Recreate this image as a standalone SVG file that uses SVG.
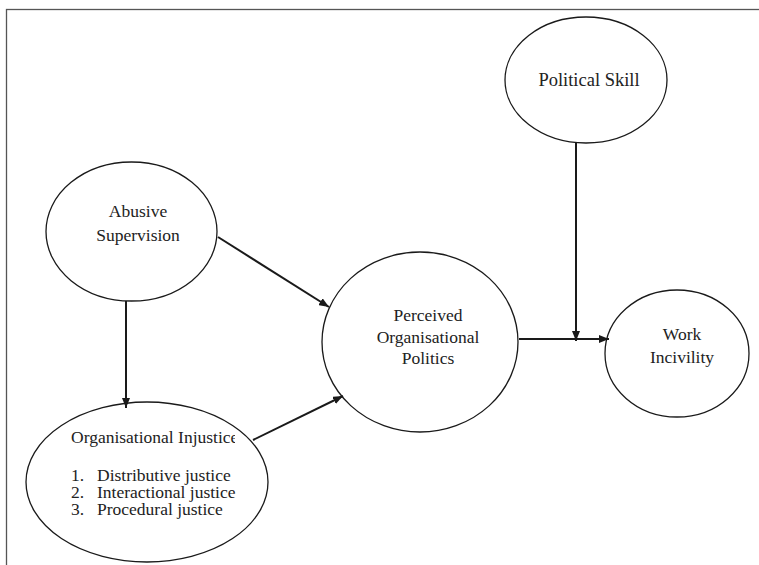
<svg xmlns="http://www.w3.org/2000/svg" width="759" height="565" viewBox="0 0 759 565">
<style>
.node ellipse{fill:#fff;stroke:#1a1a1a;stroke-width:1.3}
text{font-family:"Liberation Serif","Times New Roman",serif;font-size:17.5px;fill:#222}
.conn line{stroke:#1a1a1a;stroke-width:2}
</style>
<defs>
<marker id="ah" viewBox="0 0 10 8" refX="10" refY="4" markerWidth="10" markerHeight="8" markerUnits="userSpaceOnUse" orient="auto">
<path d="M0,0 L10,4 L0,8 z" fill="#1a1a1a"/>
</marker>
<clipPath id="oiclip"><rect x="0" y="420" width="235" height="40"/></clipPath>
</defs>
<rect x="6.5" y="9.5" width="800" height="600" fill="#fff" stroke="#555" stroke-width="1.3"/>
<g id="political-skill" class="node">
<ellipse cx="586" cy="80" rx="81" ry="63"/>
<text x="589" y="86" text-anchor="middle" style="font-size:18.5px">Political Skill</text>
</g>
<g id="abusive-supervision" class="node">
<ellipse cx="131.5" cy="231.5" rx="85.5" ry="69.5"/>
<text x="138" y="217" text-anchor="middle">Abusive</text>
<text x="138" y="241" text-anchor="middle">Supervision</text>
</g>
<g id="organisational-injustice" class="node">
<ellipse cx="147" cy="482" rx="121" ry="80"/>
<text x="71" y="443" clip-path="url(#oiclip)">Organisational Injustice</text>
<text x="71" y="481">1.</text><text x="97" y="481">Distributive justice</text>
<text x="71" y="498">2.</text><text x="97" y="498">Interactional justice</text>
<text x="71" y="515">3.</text><text x="97" y="515">Procedural justice</text>
</g>
<g id="perceived-organisational-politics" class="node">
<ellipse cx="420" cy="342" rx="98" ry="90"/>
<text x="428" y="321" text-anchor="middle">Perceived</text>
<text x="428" y="343" text-anchor="middle">Organisational</text>
<text x="428" y="364" text-anchor="middle">Politics</text>
</g>
<g id="work-incivility" class="node">
<ellipse cx="677" cy="353.5" rx="72" ry="63.5"/>
<text x="682" y="340" text-anchor="middle">Work</text>
<text x="682" y="363" text-anchor="middle">Incivility</text>
</g>
<g id="connectors" class="conn">
<line x1="126" y1="301" x2="126" y2="408" marker-end="url(#ah)"/>
<line x1="218" y1="237" x2="329" y2="307" marker-end="url(#ah)"/>
<line x1="253" y1="440" x2="343" y2="396" marker-end="url(#ah)"/>
<line x1="519" y1="339" x2="609" y2="339" marker-end="url(#ah)"/>
<line x1="576" y1="143" x2="576" y2="341" marker-end="url(#ah)"/>
</g>
</svg>
